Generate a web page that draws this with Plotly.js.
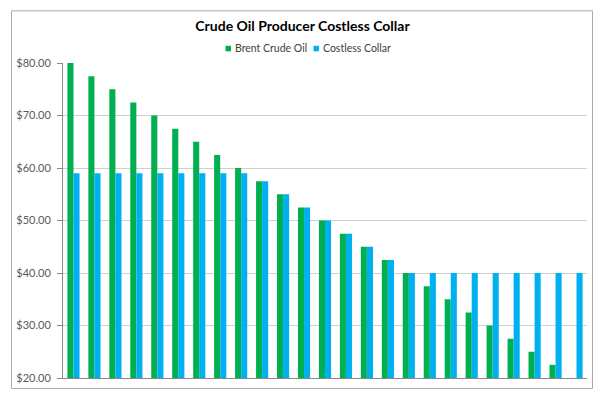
<!DOCTYPE html>
<html><head><meta charset="utf-8">
<script src="https://cdn.plot.ly/plotly-3.0.1.min.js"></script>
<style>html,body{margin:0;padding:0;background:#fff;}#chart{width:605px;height:399px;}</style>
</head><body><div id="chart"></div>
<script>
const categories = ["80","77.5","75","72.5","70","67.5","65","62.5","60","57.5","55","52.5","50","47.5","45","42.5","40","37.5","35","32.5","30","27.5","25","22.5","20"];
const brentValues = [80,77.5,75,72.5,70,67.5,65,62.5,60,57.5,55,52.5,50,47.5,45,42.5,40,37.5,35,32.5,30,27.5,25,22.5,20];
const collarValues = [59,59,59,59,59,59,59,59,59,57.5,55,52.5,50,47.5,45,42.5,40,40,40,40,40,40,40,40,40];
const seriesNames = ["Brent Crude Oil","Costless Collar"];
const seriesColors = ['#00B050','#00B0F0'];

const L=63, R=18, T=62.7, B=21, W=605, H=399;
const pw=W-L-R, ph=H-T-B;
const px = x => (x-L)/pw;
const py = y => (H-B-y)/ph;

const traces = [
  {type:'bar', name:seriesNames[0], x:categories, y:brentValues, marker:{color:seriesColors[0]}},
  {type:'bar', name:seriesNames[1], x:categories, y:collarValues, marker:{color:seriesColors[1]}}
];
const font = "Lato, 'Open Sans', sans-serif";
const legendX = [[225.5,234],[313.5,322]];
const legendShapes = legendX.map((p,i)=>({type:'rect', xref:'paper', yref:'paper', x0:px(p[0]), x1:px(p[0]+5.5), y0:py(51), y1:py(45.5), line:{width:0}, fillcolor:seriesColors[i]}));
const legendAnn = legendX.map((p,i)=>({xref:'paper', yref:'paper', x:px(p[1]), xanchor:'left', y:py(48), yanchor:'middle', showarrow:false, xshift:-1,
     text: seriesNames[i], font:{family:font, size:10.5, color:'#404040'}}));
const layout = {
  width:W, height:H,
  margin:{l:L, r:R, t:T, b:B, pad:0},
  paper_bgcolor:'#fff', plot_bgcolor:'#fff',
  font:{family:font, color:'#595959', size:11},
  title:{text:'<b>Crude Oil Producer Costless Collar</b>', font:{family:font, size:14, color:'#000'}, x:0.5, xanchor:'center', y:1-26/H, yanchor:'middle'},
  barmode:'group', bargap:0.42, bargroupgap:0,
  showlegend:false,
  annotations: legendAnn,
  xaxis:{type:'category', showticklabels:false, ticks:'', showgrid:false, showline:true, linecolor:'#888', linewidth:1, zeroline:false, fixedrange:true},
  yaxis:{range:[20,80], dtick:10, tick0:20, tickprefix:'$', tickformat:'.2f', showgrid:true, gridcolor:'#d0d0d0', gridwidth:1, showline:true, linecolor:'#888', linewidth:1, ticks:'outside', ticklen:5, tickcolor:'#888', zeroline:false, tickfont:{family:font, size:11, color:'#595959'}, ticklabelstandoff:4},
  shapes:[{type:'rect', xref:'paper', yref:'paper', x0:px(11.5), x1:px(592.5), y0:py(388.5), y1:py(10.5), line:{color:'#aaa', width:1}, fillcolor:'rgba(0,0,0,0)', layer:'below'}].concat(legendShapes)
};
Plotly.newPlot('chart', traces, layout, {displayModeBar:false, staticPlot:true});
</script></body></html>
